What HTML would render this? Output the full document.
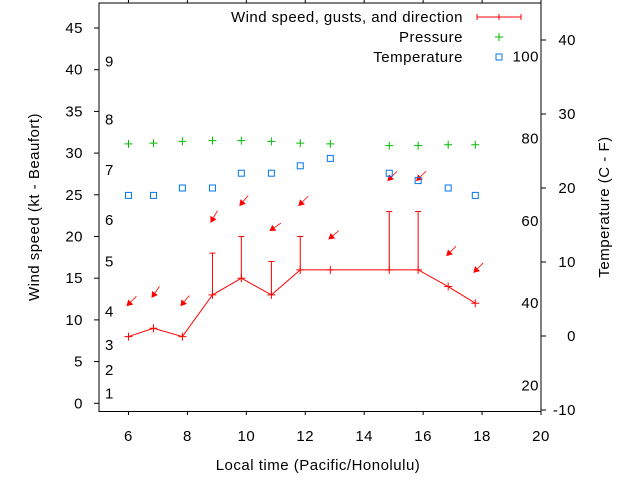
<!DOCTYPE html>
<html><head><meta charset="utf-8"><style>
body{margin:0;background:#fff}
svg{display:block;font-family:"Liberation Sans",sans-serif;font-size:15px;letter-spacing:0.5px}
</style></head><body>
<svg id="c" width="640" height="480" viewBox="0 0 640 480">
<rect width="640" height="480" fill="#fff"/>
<g id="axes"></g>
<g id="marks"></g>
<g>
<text x="463" y="22" text-anchor="end" textLength="232">Wind speed, gusts, and direction</text>
<path d="M477 17H521M477 14V20M521 14V20M499 14V20" stroke="#f00"/>
<text x="463" y="42" text-anchor="end">Pressure</text>
<path d="M495 37H503M499 33V41" stroke="#0b0"/>
<text x="463" y="62" text-anchor="end">Temperature</text>
<rect x="496" y="54" width="6" height="6" fill="none" stroke="#07e"/>
</g>
<text transform="translate(39,207) rotate(-90)" text-anchor="middle">Wind speed (kt - Beaufort)</text>
<text transform="translate(609,207) rotate(-90)" text-anchor="middle">Temperature (C - F)</text>
<text x="318" y="470" text-anchor="middle">Local time (Pacific/Honolulu)</text>
</svg>
<script>
const times=[6.0,6.85,7.83,8.85,9.83,10.85,11.83,12.85,14.85,15.83,16.85,17.77];
const wind=[8,9,8,13,15,13,16,16,16,16,14,12];
const gusts=[null,null,null,18,20,17,20,null,23,23,null,null];
const dirs=[45,35,40,30,40,55,45,50,45,45,45,45];
const pressure=[31.1,31.2,31.4,31.5,31.5,31.4,31.2,31.1,30.9,30.9,31.0,31.0];
const temps=[19,19,20,20,22,22,23,24,22,21,20,19];
const xTicks=[6,8,10,12,14,16,18,20];
const yTicks=[0,5,10,15,20,25,30,35,40,45];
const cTicks=[-10,0,10,20,30,40];
const fLabels=[20,40,60,80,100];
const bLabels=[[1,1.2],[2,4],[3,7],[4,11],[5,17],[6,22],[7,28],[8,34],[9,41]];
const NS="http://www.w3.org/2000/svg";
const X=v=>99+(v-5)*(541-99)/15;
const Y=v=>403.3-v*(403.3-28)/45;
const YC=c=>336-c*7.4;
const YF=f=>YC((f-32)*5/9);
function mk(p,t,a){const e=document.createElementNS(NS,t);for(const k in a)e.setAttribute(k,a[k]);p.appendChild(e);return e;}
const ax=document.getElementById('axes'),mg=document.getElementById('marks');
const fr=mk(ax,'rect',{x:99,y:3,width:442,height:408.5,fill:'none',stroke:'#000'});


xTicks.forEach(v=>{const x=X(v);
mk(ax,'path',{d:`M${x} 411.5V415M${x} 3V0`,stroke:'#000'});
const t=mk(ax,'text',{x:x,y:441,'text-anchor':'middle'});t.textContent=v;

});
yTicks.forEach(v=>{const y=Y(v);
mk(ax,'path',{d:`M94 ${y}H99`,stroke:'#000'});
const t=mk(ax,'text',{x:83,y:y+5,'text-anchor':'end'});t.textContent=v;

});
cTicks.forEach(v=>{const y=YC(v);
mk(ax,'path',{d:`M541 ${y}H546`,stroke:'#000'});
const t=mk(ax,'text',{x:576,y:y+5,'text-anchor':'end'});t.textContent=v;

});
fLabels.forEach(v=>{const t=mk(ax,'text',{x:539,y:YF(v)+5,'text-anchor':'end'});t.textContent=v;

});
bLabels.forEach(([b,s])=>{const t=mk(ax,'text',{x:105,y:Y(s)+5});t.textContent=b;

});
const pts=times.map((t,i)=>X(t)+','+Y(wind[i])).join(' ');
const ln=mk(mg,'polyline',{points:pts,fill:'none',stroke:'#f00'});


times.forEach((t,i)=>{const x=X(t),y=Y(wind[i]);
const p=mk(mg,'path',{d:`M${x-4} ${y}H${x+4}M${x} ${y-4}V${y+4}`,stroke:'#f00'});


let top=wind[i];
if(gusts[i]!=null){top=gusts[i];const gy=Y(gusts[i]);
const g=mk(mg,'path',{d:`M${x} ${y}V${gy}M${x-3} ${gy}H${x+3}`,stroke:'#f00'});

}
const ay=Y(top+4),r=dirs[i]*Math.PI/180,L=14;
const tx=x-2,ty=ay+3,sx=tx+L*Math.sin(r),sy=ty-L*Math.cos(r);
const ux=(tx-sx)/L,uy=(ty-sy)/L,bx=tx-ux*6,by=ty-uy*6;
const a=mk(mg,'g',{});


mk(a,'line',{x1:sx,y1:sy,x2:bx,y2:by,stroke:'#f00','stroke-width':0.8});
mk(a,'polygon',{points:`${tx},${ty} ${bx-uy*3.5},${by+ux*3.5} ${bx+uy*3.5},${by-ux*3.5}`,fill:'#f00'});
const gp=mk(mg,'path',{d:`M${x-4} ${Y(pressure[i])}H${x+4}M${x} ${Y(pressure[i])-4}V${Y(pressure[i])+4}`,stroke:'#0b0'});


const sq=mk(mg,'rect',{x:x-3,y:YC(temps[i])-3,width:6,height:6,fill:'none',stroke:'#07e'});


});
</script>
</body></html>
